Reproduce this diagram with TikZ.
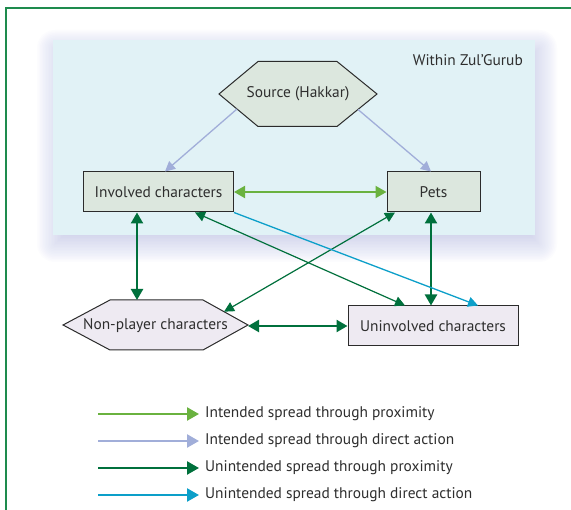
\documentclass[tikz,border=0pt]{standalone}
\usepackage{fontspec}
\setmainfont{PT Sans}
\usetikzlibrary{arrows.meta}
\definecolor{framecol}{HTML}{1E8B4E}
\definecolor{bluebox}{HTML}{E1F2F6}
\definecolor{shadowcol}{HTML}{B0B6E0}
\definecolor{nodegreen}{HTML}{DCE7DE}
\definecolor{nodelav}{HTML}{EEEAF2}
\definecolor{bordercol}{HTML}{2B2B2B}
\definecolor{lgreen}{HTML}{6AB23F}
\definecolor{lav}{HTML}{A1AED9}
\definecolor{dgreen}{HTML}{00703C}
\definecolor{cyancol}{HTML}{0C9FC9}
\definecolor{textcol}{HTML}{2E2E2E}
\tikzset{
  lbl/.style={font=\fontsize{15.4}{18}\selectfont, text=textcol, inner sep=0pt},
  box/.style={draw=bordercol, line width=1pt, rectangle, inner sep=0pt, font=\fontsize{15.4}{18}\selectfont, text=textcol, minimum height=40pt},
  hexa/.style={draw=bordercol, line width=1pt, line join=miter},
  thickarr/.style={draw=dgreen, line width=2.3pt, {Triangle[length=11pt,width=12pt]}-{Triangle[length=11pt,width=12pt]}},
  thinarr/.style={draw=dgreen, line width=1.2pt, {Triangle[length=10pt,width=10pt]}-{Triangle[length=10pt,width=10pt]}},
  lavarr/.style={draw=lav, line width=1.3pt, -{Triangle[length=10pt,width=10pt]}},
  cyanarr/.style={draw=cyancol, line width=1.3pt, -{Triangle[length=10pt,width=10pt]}},
  lgarr/.style={draw=lgreen, line width=2pt, {Triangle[length=11pt,width=12pt]}-{Triangle[length=11pt,width=12pt]}},
  legline/.style={line width=2.3pt, -{Triangle[length=12pt,width=13pt]}},
}
\begin{document}
\begin{tikzpicture}[x=1pt,y=-1pt]
\useasboundingbox (0,0) rectangle (571,510);
\fill[white] (0,0) rectangle (571,510);
% frame
\draw[framecol, line width=1.3pt] (571,8) -- (6,8) -- (6,510);
% soft shadow of the Zul'Gurub area
\foreach \i in {1,...,20}{
  \pgfmathsetmacro{\e}{1.5*(\i-8)}
  \pgfmathsetmacro{\r}{max(0.1,\e)}
  \fill[shadowcol, opacity=0.03, rounded corners=\r pt] (55-\e, 48-\e) rectangle (539+\e, 244+\e);
}
\fill[bluebox] (53,40) rectangle (535,235);
\node[lbl, anchor=east] (zul) at (523,60) {Within Zul’Gurub};
% Source hexagon
\draw[hexa, fill=nodegreen] (219,94) -- (258,61.5) -- (337,61.5) -- (377,94) -- (337,126.5) -- (258,126.5) -- cycle;
\node[lbl] (src) at (298,94) {Source (Hakkar)};
\coordinate (srcL) at (237,109);
\coordinate (srcR) at (358,109.5);
% boxes
\node[box, fill=nodegreen, minimum width=150pt] (inv) at (158.5,192) {Involved characters};
\node[box, fill=nodegreen, minimum width=93pt] (pets) at (433.5,192) {Pets};
\node[box, fill=nodelav, minimum width=170pt] (uninv) at (433,326) {Uninvolved characters};
% NPC hexagon
\draw[hexa, fill=nodelav] (63,325) -- (110,300) -- (203,300) -- (248,325) -- (203,350) -- (110,350) -- cycle;
\node[lbl] (npc) at (155.5,325.5) {Non-player characters};
\coordinate (npcT) at (137,300);
\coordinate (npcE) at (248,326);
\coordinate (npcNE) at (224,311.7);
% arrows
\draw[lavarr] (srcL) -- ([xshift=6.5pt]inv.north);
\draw[lavarr] (srcR) -- ([xshift=-2.5pt]pets.north);
\draw[lgarr] (inv.east) -- (pets.west);
\draw[thickarr] ([xshift=-21.5pt]inv.south) -- (npcT);
\draw[thickarr] ([xshift=-2.5pt]pets.south) -- ([xshift=-2pt]uninv.north);
\draw[thickarr] (npcE) -- (uninv.west);
\draw[thinarr] ([xshift=36.5pt]inv.south) -- ([xshift=-28pt]uninv.north);
\draw[thinarr] ([xshift=-38.5pt]pets.south) -- (npcNE);
\draw[cyanarr] (inv.south east) -- ([xshift=45pt]uninv.north);
% legend
\coordinate (l1a) at (98,414); \coordinate (l1b) at (199,414);
\coordinate (l2a) at (98,441); \coordinate (l2b) at (199,441);
\coordinate (l3a) at (98,468); \coordinate (l3b) at (199,468);
\coordinate (l4a) at (98,495); \coordinate (l4b) at (199,495);
\draw[legline, lgreen] (l1a) -- (l1b);
\draw[legline, lav] (l2a) -- (l2b);
\draw[legline, dgreen] (l3a) -- (l3b);
\draw[legline, cyancol] (l4a) -- (l4b);
\node[lbl, anchor=west] (t1) at (205,414) {Intended spread through proximity};
\node[lbl, anchor=west] (t2) at (205,441) {Intended spread through direct action};
\node[lbl, anchor=west] (t3) at (205,468) {Unintended spread through proximity};
\node[lbl, anchor=west] (t4) at (205,495) {Unintended spread through direct action};
\end{tikzpicture}
\end{document}
